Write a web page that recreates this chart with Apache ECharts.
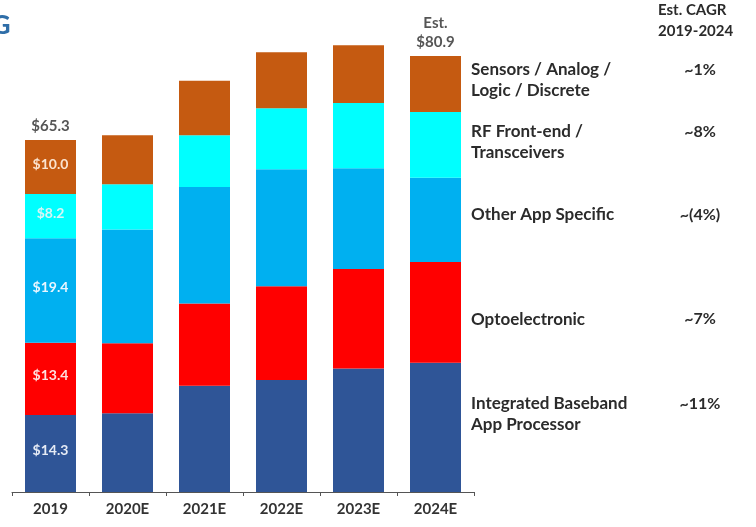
<!DOCTYPE html>
<html>
<head>
<meta charset="utf-8">
<script src="https://cdn.jsdelivr.net/npm/echarts@6/dist/echarts.min.js"></script>
<style>
  html, body { margin: 0; padding: 0; background: #fff; }
  #chart { width: 756px; height: 527px; }
</style>
</head>
<body>
<div id="chart"></div>
<script>
// Years on the x axis
const years = ['2019', '2020E', '2021E', '2022E', '2023E', '2024E'];

// Revenue by segment ($B), stacked bottom to top
const baseband   = [14.3, 14.6, 19.7, 20.8, 22.9, 24.0];
const opto       = [13.4, 13.0, 15.3, 17.4, 18.5, 18.7];
const otherApp   = [19.4, 21.1, 21.6, 21.7, 18.7, 15.6];
const rfFront    = [8.2, 8.4, 9.6, 11.3, 12.1, 12.2];
const sensors    = [10.0, 9.1, 10.1, 10.4, 10.7, 10.4];

// Stack totals shown above the first and last bars
const totals = [65.3, null, null, null, null, 80.9];

// Segment names (one or two lines) and estimated CAGR 2019-2024
const segNames = [
  ['Integrated Baseband', 'App Processor'],
  ['Optoelectronic'],
  ['Other App Specific'],
  ['RF Front-end /', 'Transceivers'],
  ['Sensors / Analog /', 'Logic / Discrete']
];
const cagr = ['~11%', '~7%', '~(4%)', '~8%', '~1%'];

const segValues = [baseband, opto, otherApp, rfFront, sensors];
const segColors = ['#2f5597', '#ff0000', '#00b0f0', '#00ffff', '#c55a11'];
const insideLabelColors = ['#e6ebf5', '#ffe0e0', '#eaf6ff', '#d8f6f6', '#fbe3cf'];
const sideOffsets = [[0, -13], [0, 7], [0, -5], [0, -3], [0, -4]];

const FONT = 'Lato, "Open Sans", sans-serif';
const last = years.length - 1;

function sideText(k) {
  const lines = segNames[k];
  return lines.map((ln, i) => '{n|' + ln + '}' + (i === 0 ? '{c|' + cagr[k] + '}' : '')).join('\n');
}

const barSeries = segValues.map((vals, k) => ({
  name: segNames[k].join(' '),
  type: 'bar',
  stack: 'total',
  barWidth: 51,
  itemStyle: { color: segColors[k] },
  emphasis: { disabled: true },
  data: vals.map((v, i) => {
    if (i === 0) {
      return {
        value: v,
        label: {
          show: true,
          position: 'inside',
          offset: [0, -3],
          formatter: '$' + v.toFixed(1),
          color: insideLabelColors[k],
          fontFamily: FONT,
          fontWeight: 'bold',
          fontSize: 14
        }
      };
    }
    if (i === last) {
      return {
        value: v,
        label: {
          show: true,
          position: 'right',
          distance: 10,
          offset: sideOffsets[k],
          formatter: sideText(k),
          lineHeight: 21,
          rich: {
            n: { width: 199, align: 'left', fontFamily: FONT, fontWeight: 'bold', fontSize: 17, color: '#2b2b2b', lineHeight: 21 },
            c: { width: 60, align: 'center', fontFamily: FONT, fontWeight: 'bold', fontSize: 16, color: '#2b2b2b', lineHeight: 21 }
          }
        }
      };
    }
    return { value: v };
  })
}));

const totalSeries = {
  name: 'Total',
  type: 'scatter',
  symbolSize: 1,
  itemStyle: { color: 'rgba(0,0,0,0)' },
  emphasis: { disabled: true },
  silent: true,
  data: totals.map((v, i) => v == null ? '-' : {
    value: v,
    label: {
      show: true,
      position: 'top',
      distance: 4,
      formatter: (i === last ? 'Est.\n' : '') + '$' + v.toFixed(1),
      fontFamily: FONT,
      fontWeight: 'bold',
      fontSize: 15,
      lineHeight: 19,
      color: '#2b2b2b',
      align: 'center'
    }
  })
};

const chart = echarts.init(document.getElementById('chart'));
chart.setOption({
  backgroundColor: '#ffffff',
  animation: false,
  grid: { left: 12, right: 282, top: 7, bottom: 35 },
  xAxis: {
    type: 'category',
    data: years,
    axisLine: { lineStyle: { color: '#555', width: 1 } },
    axisTick: { show: true, length: 4, lineStyle: { color: '#555' } },
    axisLabel: {
      margin: 10,
      fontFamily: FONT,
      fontWeight: 'bold',
      fontSize: 15,
      color: '#333'
    }
  },
  yAxis: {
    type: 'value',
    min: 0,
    max: 90,
    show: false
  },
  graphic: [
    {
      type: 'text',
      left: 703 - 45,
      top: 0,
      style: {
        text: 'Est. CAGR\n2019-2024',
        width: 90,
        align: 'center',
        fontFamily: FONT,
        fontWeight: 'bold',
        fontSize: 15,
        lineHeight: 21,
        fill: '#2b2b2b'
      }
    },
    {
      type: 'text',
      x: -9,
      y: 12,
      style: {
        text: 'G',
        fontFamily: FONT,
        fontWeight: 'bold',
        fontSize: 27,
        fill: '#2f6ea8'
      }
    }
  ],
  series: barSeries.concat([totalSeries])
});
</script>
</body>
</html>
